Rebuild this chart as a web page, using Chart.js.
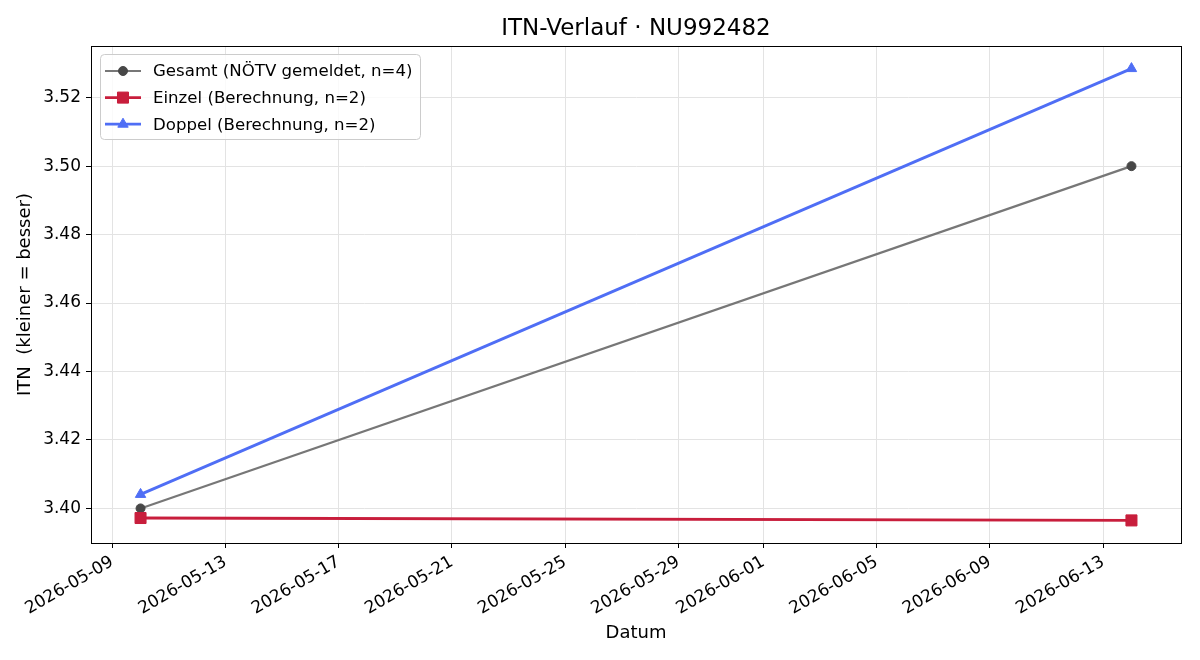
<!DOCTYPE html>
<html>
<head>
<meta charset="utf-8">
<title>ITN-Verlauf</title>
<script src="https://cdn.jsdelivr.net/npm/chart.js@4.4.1/dist/chart.umd.min.js"></script>
<style>
  body { margin: 0; background: #fff; }
  #wrap { width: 1200px; height: 660px; }
</style>
</head>
<body>
<div id="wrap"><canvas id="itnChart" width="1200" height="660"></canvas></div>
<script>
const dates = ["2026-05-10", "2026-06-14"];
const gesamt = [3.400, 3.500];
const einzel = [3.3972, 3.3965];
const doppel = [3.4041, 3.5285];

const seriesLabels = [
  "Gesamt (NÖTV gemeldet, n=4)",
  "Einzel (Berechnung, n=2)",
  "Doppel (Berechnung, n=2)",
];

const xTickLabels = [
  "2026-05-09", "2026-05-13", "2026-05-17", "2026-05-21", "2026-05-25",
  "2026-05-29", "2026-06-01", "2026-06-05", "2026-06-09", "2026-06-13",
];
const yTickValues = [3.40, 3.42, 3.44, 3.46, 3.48, 3.50, 3.52];

const FONT = "'DejaVu Sans', 'Liberation Sans', sans-serif";

function toDay(d) {
  return Date.parse(d + "T00:00:00Z") / 86400000;
}

const days = dates.map(toDay);
const xSpan = Math.max(...days) - Math.min(...days);
const xMin = Math.min(...days) - xSpan * 0.05;
const xMax = Math.max(...days) + xSpan * 0.05;

const allY = gesamt.concat(einzel, doppel);
const ySpan = Math.max(...allY) - Math.min(...allY);
const yMin = Math.min(...allY) - ySpan * 0.05;
const yMax = Math.max(...allY) + ySpan * 0.05;

function points(values) {
  return values.map((v, i) => ({ x: days[i], y: v }));
}

const styles = [
  { line: "#777777", marker: "#474747", width: 2.2, pointStyle: "circle", radius: 4.5 },
  { line: "#c81e3c", marker: "#c81e3c", width: 2.8, pointStyle: "rect", radius: 7.8 },
  { line: "#4f6ef5", marker: "#4f6ef5", width: 2.8, pointStyle: "triangle", radius: 6 },
];

const seriesData = [gesamt, einzel, doppel];

const datasets = seriesData.map((vals, i) => ({
  label: seriesLabels[i],
  data: points(vals),
  borderColor: styles[i].line,
  backgroundColor: styles[i].marker,
  pointBackgroundColor: styles[i].marker,
  pointBorderColor: styles[i].marker,
  pointBorderWidth: 1,
  borderWidth: styles[i].width,
  pointStyle: styles[i].pointStyle,
  pointRadius: styles[i].radius,
  pointHoverRadius: styles[i].radius,
  tension: 0,
  order: i === 0 ? 3 : 3 - i,
}));

// frame + legend box inside the plot
const framePlugin = {
  id: "frameAndLegend",
  afterDraw(chart) {
    const ctx = chart.ctx;
    const a = chart.chartArea;
    ctx.save();
    ctx.strokeStyle = "#000";
    ctx.lineWidth = 1;
    ctx.strokeRect(Math.round(a.left) + 0.5, Math.round(a.top) + 0.5,
      Math.round(a.right - a.left), Math.round(a.bottom - a.top));

    const bx = a.left + 9, by = a.top + 8, bw = 320, bh = 85;
    ctx.beginPath();
    ctx.roundRect(bx + 0.5, by + 0.5, bw, bh, 4);
    ctx.fillStyle = "rgba(255,255,255,0.8)";
    ctx.fill();
    ctx.strokeStyle = "#cccccc";
    ctx.stroke();

    ctx.font = "16.6px " + FONT;
    ctx.textBaseline = "middle";
    ctx.textAlign = "left";
    for (let i = 0; i < seriesLabels.length; i++) {
      const ry = by + 17 + i * 26.6;
      const st = styles[i];
      ctx.beginPath();
      ctx.moveTo(bx + 5, ry);
      ctx.lineTo(bx + 41, ry);
      ctx.strokeStyle = st.line;
      ctx.lineWidth = st.width;
      ctx.stroke();
      ctx.fillStyle = st.marker;
      ctx.strokeStyle = st.marker;
      ctx.lineWidth = 1;
      Chart.helpers.drawPoint(ctx, { pointStyle: st.pointStyle, radius: st.radius, rotation: 0, borderWidth: 1 }, bx + 23, ry);
      ctx.fillStyle = "#000";
      ctx.fillText(seriesLabels[i], bx + 53, ry + 1);
    }
    ctx.restore();
  },
};

new Chart(document.getElementById("itnChart").getContext("2d"), {
  type: "line",
  data: { datasets: datasets },
  options: {
    responsive: false,
    animation: false,
    layout: { padding: { left: 0, right: 19, top: 0, bottom: 0 } },
    plugins: {
      legend: { display: false },
      tooltip: { enabled: false },
      title: {
        display: true,
        fullSize: false,
        text: "ITN-Verlauf · NU992482",
        color: "#000",
        font: { family: FONT, size: 23, weight: "normal" },
        padding: { top: 15, bottom: 3.4 },
      },
    },
    scales: {
      x: {
        type: "linear",
        min: xMin,
        max: xMax,
        afterBuildTicks(scale) {
          scale.ticks = xTickLabels.map((d) => ({ value: toDay(d) }));
        },
        afterFit(scale) {
          scale.height = 117;
        },
        ticks: {
          autoSkip: false,
          minRotation: 30,
          maxRotation: 30,
          padding: 4,
          color: "#000",
          font: { family: FONT, size: 17 },
          callback: (value, index) => xTickLabels[index],
        },
        grid: {
          color: "#e3e3e3",
          lineWidth: 1,
          tickColor: "#000",
          tickLength: 5,
        },
        border: { color: "#000", width: 1 },
        title: {
          display: true,
          text: "Datum",
          color: "#000",
          font: { family: FONT, size: 18 },
          padding: { top: 0, bottom: 16 },
        },
      },
      y: {
        type: "linear",
        min: yMin,
        max: yMax,
        afterBuildTicks(scale) {
          scale.ticks = yTickValues.map((v) => ({ value: v }));
        },
        afterFit(scale) {
          scale.width = 91;
        },
        ticks: {
          padding: 5,
          color: "#000",
          font: { family: FONT, size: 17 },
          callback: (value) => Number(value).toFixed(2),
        },
        grid: {
          color: "#e3e3e3",
          lineWidth: 1,
          tickColor: "#000",
          tickLength: 5,
        },
        border: { color: "#000", width: 1 },
        title: {
          display: true,
          text: "ITN  (kleiner = besser)",
          color: "#000",
          font: { family: FONT, size: 18 },
          padding: { top: 15, bottom: 0 },
        },
      },
    },
  },
  plugins: [framePlugin],
});
</script>
</body>
</html>
